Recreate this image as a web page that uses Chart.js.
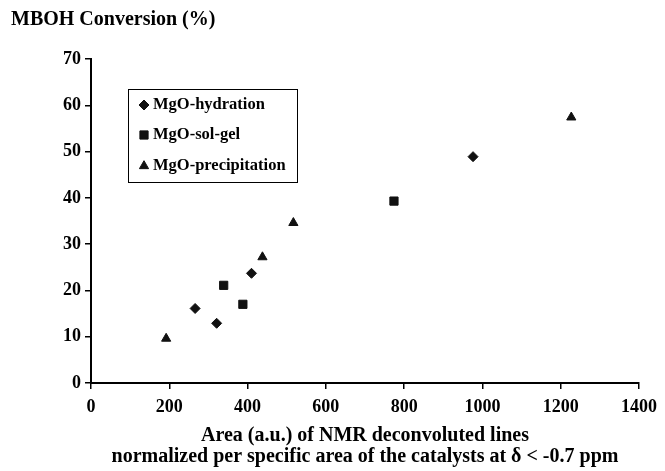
<!DOCTYPE html>
<html lang="en">
<head>
  <meta charset="UTF-8" />
  <title>MBOH Conversion</title>
  <script src="https://cdn.jsdelivr.net/npm/chart.js"></script>
  <style>
    body {
      margin: 0;
      background: #fff;
    }
    #wrap {
      width: 665px;
      height: 471px;
    }
  </style>
</head>
<body>
  <div id="wrap"><canvas id="chart"></canvas></div>

  <script>
    // values
    const hydrationX = [266, 321, 410, 976];
    const hydrationY = [16.1, 12.9, 23.7, 48.9];
    const solGelX = [339, 388, 774];
    const solGelY = [21.1, 17.0, 39.3];
    const precipX = [192, 438, 517, 1227];
    const precipY = [9.6, 27.2, 34.6, 57.4];

    const xTicks = [0, 200, 400, 600, 800, 1000, 1200, 1400];
    const yTicks = [0, 10, 20, 30, 40, 50, 60, 70];

    const serif = "'Liberation Serif', 'Times New Roman', serif";

    const toPoints = (xs, ys) => xs.map((x, i) => ({ x: x, y: ys[i] }));

    // titles and the boxed legend inside the plot
    const decor = {
      id: 'decor',
      afterDraw(chart) {
        const ctx = chart.ctx;
        const area = chart.chartArea;
        ctx.save();
        ctx.fillStyle = '#000';
        ctx.textBaseline = 'middle';

        ctx.font = 'bold 20px ' + serif;
        ctx.textAlign = 'left';
        ctx.fillText('MBOH Conversion (%)', 11, 20);

        const cx = (area.left + area.right) / 2;
        ctx.textAlign = 'center';
        ctx.fillText('Area (a.u.) of NMR deconvoluted lines', cx, 436);
        ctx.fillText('normalized per specific area of the catalysts at \u03b4 < -0.7 ppm', cx, 457);

        // legend
        ctx.lineWidth = 1;
        ctx.strokeStyle = '#000';
        ctx.strokeRect(128.5, 89.5, 169, 93);
        ctx.font = 'bold 16.5px ' + serif;
        ctx.textAlign = 'left';
        const rowY = [105, 135, 166];
        chart.data.datasets.forEach((ds, i) => {
          ctx.fillStyle = ds.backgroundColor;
          ctx.strokeStyle = ds.borderColor;
          Chart.helpers.drawPoint(ctx, {
            pointStyle: ds.pointStyle,
            radius: ds.pointRadius,
            rotation: 0,
            borderWidth: 1
          }, 144, rowY[i]);
          ctx.fillStyle = '#000';
          ctx.fillText(ds.label, 153, rowY[i]);
        });
        ctx.restore();
      }
    };

    const axisGrid = {
      display: true,
      drawOnChartArea: false,
      drawTicks: true,
      tickLength: 6,
      tickColor: '#000',
      tickWidth: 1.5,
      color: '#000',
      lineWidth: 1.5
    };

    new Chart(document.getElementById('chart'), {
      type: 'scatter',
      data: {
        datasets: [
          {
            label: 'MgO-hydration',
            data: toPoints(hydrationX, hydrationY),
            pointStyle: 'rectRot',
            pointRadius: 5,
            backgroundColor: '#111',
            borderColor: '#111',
            borderWidth: 1
          },
          {
            label: 'MgO-sol-gel',
            data: toPoints(solGelX, solGelY),
            pointStyle: 'rect',
            pointRadius: 5.8,
            backgroundColor: '#111',
            borderColor: '#111',
            borderWidth: 1
          },
          {
            label: 'MgO-precipitation',
            data: toPoints(precipX, precipY),
            pointStyle: 'triangle',
            pointRadius: 5.3,
            backgroundColor: '#111',
            borderColor: '#111',
            borderWidth: 1
          }
        ]
      },
      options: {
        responsive: true,
        maintainAspectRatio: false,
        animation: false,
        layout: {
          padding: { top: 59, right: 23, left: 0, bottom: 0 }
        },
        scales: {
          x: {
            type: 'linear',
            min: 0,
            max: 1400,
            afterBuildTicks: s => { s.ticks = xTicks.map(v => ({ value: v })); },
            afterFit: s => { s.height = 88; },
            ticks: {
              color: '#000',
              padding: 8,
              callback: v => String(v),
              font: { family: serif, size: 18, weight: 'bold' }
            },
            grid: axisGrid,
            border: { color: '#000', width: 2 }
          },
          y: {
            type: 'linear',
            min: 0,
            max: 70,
            afterBuildTicks: s => { s.ticks = yTicks.map(v => ({ value: v })); },
            afterFit: s => { s.width = 91; },
            ticks: {
              color: '#000',
              padding: 4,
              callback: v => String(v),
              font: { family: serif, size: 18, weight: 'bold' }
            },
            grid: axisGrid,
            border: { color: '#000', width: 2 }
          }
        },
        plugins: {
          legend: { display: false },
          tooltip: { enabled: false }
        }
      },
      plugins: [decor]
    });
  </script>
</body>
</html>
